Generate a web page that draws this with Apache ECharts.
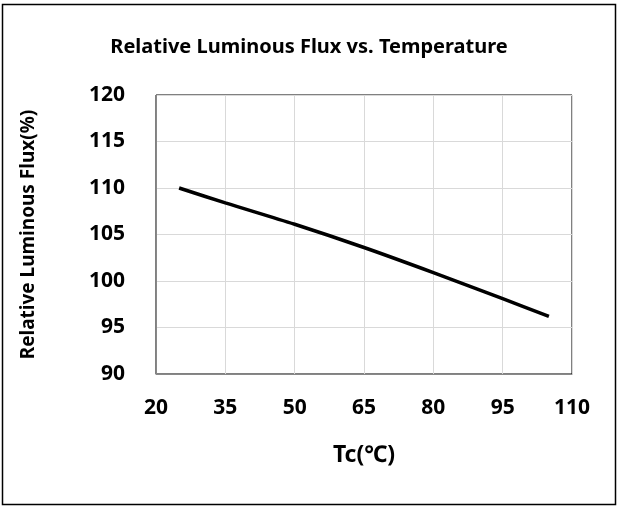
<!DOCTYPE html>
<html>
<head>
<meta charset="utf-8">
<script src="https://cdn.jsdelivr.net/npm/echarts@6/dist/echarts.min.js"></script>
<style>
    html, body { margin: 0; padding: 0; background: #fff; }
    #chart { width: 618px; height: 508px; }
</style>
</head>
<body>
<div id="chart"></div>
<script>
// temperature (Tc, °C) and relative luminous flux (%)
const tempValues = [25, 35, 50, 65, 80, 95, 105]
const fluxValues = [110, 108.4, 106.1, 103.6, 100.9, 98.1, 96.2]

const xTicks = [20, 35, 50, 65, 80, 95, 110]
const yTicks = [90, 95, 100, 105, 110, 115, 120]

const font = '"Noto Sans", "DejaVu Sans", sans-serif'

const chart = echarts.init(document.getElementById('chart'))

chart.setOption({
    animation: false,
    backgroundColor: '#fff',
    title: {
        text: 'Relative Luminous Flux vs. Temperature',
        left: 'center',
        top: 32,
        textStyle: { fontFamily: font, fontSize: 20, fontWeight: 'bold', color: '#000' }
    },
    graphic: [{
        type: 'rect',
        shape: { x: 2.5, y: 4.5, width: 613, height: 500 },
        style: { fill: 'none', stroke: '#000', lineWidth: 1.5 },
        silent: true
    }],
    grid: {
        left: 156,
        right: 46,
        top: 95,
        bottom: 134,
        show: true,
        borderColor: '#000',
        borderWidth: 1
    },
    xAxis: {
        type: 'value',
        min: xTicks[0],
        max: xTicks[xTicks.length - 1],
        interval: 15,
        name: 'Tc(℃)',
        nameLocation: 'middle',
        nameGap: 70,
        nameTextStyle: { fontFamily: font, fontSize: 23, fontWeight: 'bold', color: '#000' },
        axisLine: { lineStyle: { color: '#888', width: 1 } },
        axisTick: { show: false },
        axisLabel: {
            margin: 24,
            fontFamily: font, fontSize: 21, fontWeight: 'bold', color: '#000'
        },
        splitLine: { lineStyle: { color: '#d9d9d9', width: 1 } }
    },
    yAxis: {
        type: 'value',
        min: yTicks[0],
        max: yTicks[yTicks.length - 1],
        interval: 5,
        name: 'Relative Luminous Flux(%)',
        nameLocation: 'middle',
        nameGap: 118,
        nameTextStyle: { fontFamily: font, fontSize: 19, fontWeight: 'bold', color: '#000' },
        axisLine: { show: true, lineStyle: { color: '#888', width: 1 } },
        axisTick: { show: false },
        axisLabel: {
            margin: 31,
            fontFamily: font, fontSize: 21, fontWeight: 'bold', color: '#000'
        },
        splitLine: { lineStyle: { color: '#d9d9d9', width: 1 } }
    },
    series: [{
        type: 'line',
        data: tempValues.map((t, i) => [t, fluxValues[i]]),
        smooth: 0.3,
        showSymbol: false,
        lineStyle: { color: '#000', width: 3.5 }
    }]
})
</script>
</body>
</html>
